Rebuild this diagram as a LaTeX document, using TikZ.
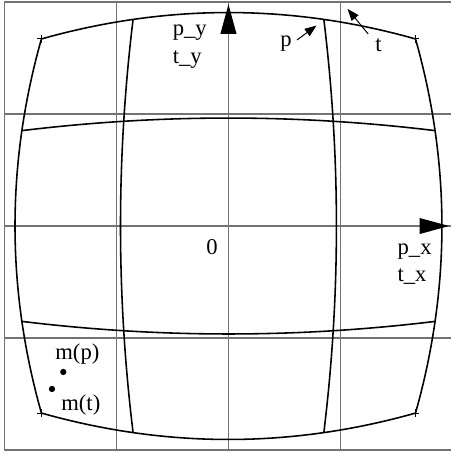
\documentclass[tikz,border=0pt]{standalone}
\usepackage{fontspec}
\setmainfont{Liberation Serif}
\usepackage{tikz}
\usetikzlibrary{arrows.meta}

\begin{document}
\begin{tikzpicture}[x=2cm,y=2cm,
    font=\fontsize{11.5}{13.8}\selectfont,
    gridline/.style={draw=black!55,line width=0.6pt},
    curve/.style={thick,line join=round},
    lbl/.style={anchor=base west,inner sep=0pt},
    axistip/.style={-{Triangle[length=15pt,width=8pt,color=black]}},
    pointer/.style={line width=0.5pt,-{Triangle[length=6pt,width=4.5pt]}}]
    \useasboundingbox (-2.04,-2.0625) rectangle (1.987,2.018);
    \draw[gridline,step=2cm] (-2,-2) grid (2,2);
    \draw[gridline,axistip] (-2,0) -- (1.97,0);
    \draw[gridline,axistip] (0,-2) -- (0,1.98);
    % distorted grid
    \foreach \s in {-1,1} {
        \draw[curve] plot[domain=-1.67:1.67,samples=40] (\x,{\s*(1.906-0.0845*\x*\x)});
        \draw[curve] plot[domain=-1.67:1.67,samples=40] ({\s*(1.906-0.0845*\x*\x)},\x);
        \draw[curve] plot[domain=-1.844:1.844,samples=40] (\x,{\s*(0.964-0.033*\x*\x)});
        \draw[curve] plot[domain=-1.844:1.844,samples=40] ({\s*(0.964-0.033*\x*\x)},\x);
    }
    \foreach \cx in {-1.67,1.67}
        \foreach \cy in {-1.67,1.67}
            \draw[line width=0.5pt] (\cx,\cy) +(-2pt,0) -- +(2pt,0) +(0,-2pt) -- +(0,2pt);
    % labels
    \node[lbl] (lpy) at (-0.5,1.705) {p\_y};
    \node[lbl] (lty) at (-0.5,1.455) {t\_y};
    \node[lbl] (lp) at (0.46,1.607) {p};
    \node[lbl] (lt) at (1.308,1.554) {t};
    \node[lbl] (orig) at (-0.2,-0.25) {0};
    \node[lbl] (lpx) at (1.507,-0.25) {p\_x};
    \node[lbl] (ltx) at (1.507,-0.497) {t\_x};
    \node[lbl] (lmp) at (-1.549,-1.196) {m(p)};
    \node[lbl] (lmt) at (-1.496,-1.643) {m(t)};
    \coordinate (mp) at (-1.475,-1.303);
    \coordinate (mt) at (-1.576,-1.455);
    \fill (mp) circle (1.6pt);
    \fill (mt) circle (1.6pt);
    % pointers
    \coordinate (ptail) at (0.612,1.661);
    \coordinate (ptip) at (0.786,1.79);
    \coordinate (ttail) at (1.248,1.714);
    \coordinate (ttip) at (1.064,1.938);
    \draw[pointer] (ptail) -- (ptip);
    \draw[pointer] (ttail) -- (ttip);
\end{tikzpicture}
\end{document}
